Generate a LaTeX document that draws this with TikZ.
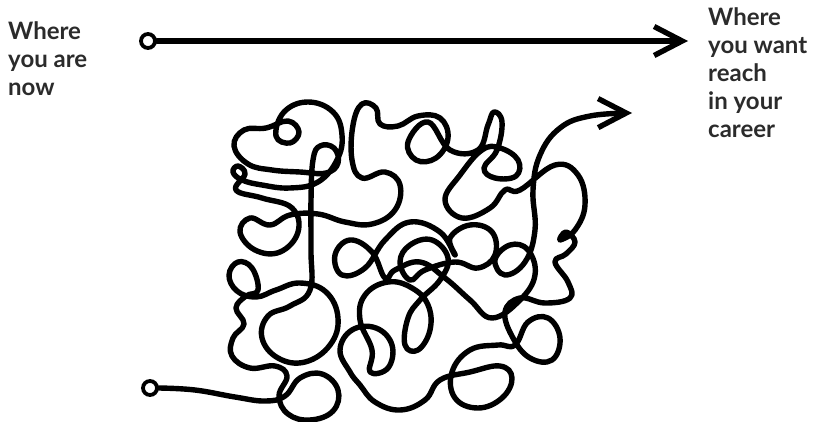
\documentclass[tikz,border=0pt]{standalone}
\usepackage{fontspec}
\setmainfont{Lato}
\usetikzlibrary{arrows.meta}

\definecolor{labelgray}{HTML}{2B2B2B}

\tikzset{
  scribble/.style={line width=5.4pt, line cap=round, line join=round},
  endpt/.style={circle, draw, line width=3.8pt, minimum size=14pt, inner sep=0pt},
  lbl/.style={font=\bfseries\fontsize{24}{28.2}\selectfont, text=labelgray,
    align=left, anchor=base west, inner sep=0pt},
  barb/.style={-{Straight Barb[length=28pt,width=29pt]}}
}

\begin{document}
\begin{tikzpicture}[x=1pt,y=-1pt]
  \useasboundingbox (0,0) rectangle (813,422);

  % labels (anchored on their last line)
  \node[lbl] (here) at (8,96) {Where\\you are\\now};
  \node[lbl] (there) at (708,138) {Where\\you want\\reach\\in your\\career};

  % straight way
  \node[endpt] (now) at (148,41) {};
  \coordinate (goal) at (688,41);
  \draw[scribble,barb] (now) -- (goal);

  % the tangled way
  \node[endpt] (start) at (150,388) {};
  \draw[scribble,barb] plot[smooth,tension=0.7] coordinates {
    (start.east) (195,390) (235,397) (265,401) (285,396) (300,378) (322,374)
    (338,390) (333,411) (310,420) (288,414) (279,396) (287,376) (275,366)
    (250,368) (232,356) (233,338) (244,324) (236,308) (246,296) (258,290)
    (252,268) (238,262) (229,275) (237,291) (256,297) (276,290) (300,283)
    (326,292) (338,318) (330,345) (305,362) (278,358) (262,338) (268,316)
    (290,306) (310,290)
    (311,250) (311,200) (313,160) (320,146) (334,148) (338,163) (326,173)
    (300,172) (272,170) (248,164) (234,146) (244,130) (266,128) (288,121)
    (299,132) (290,143) (276,136) (284,112) (308,102) (333,112) (342,135)
    (337,160) (318,182) (290,188) (262,185) (242,180) (233,172) (238,166)
    (245,174) (236,190)
    (262,198) (292,208) (298,232) (280,252) (255,250) (240,232) (250,218)
    (270,225) (290,215) (318,214) (345,222) (372,224)
    (395,210) (400,185) (385,172) (362,178) (352,160) (353,125) (362,104)
    (376,108) (380,124) (398,126) (418,116) (440,118) (448,138) (436,158)
    (416,160) (408,142) (428,122) (450,150) (478,150) (488,125) (494,112)
    (502,122) (497,150) (484,168) (495,178) (516,176) (518,160) (500,148)
    (482,150) (460,175) (445,200) (462,218) (490,208) (505,190) (520,190)
    (555,165) (578,175) (585,205) (575,230)
    (560,240) (566,232) (575,242) (566,254) (555,262) (568,282) (570,298)
    (545,303) (520,298) (505,312) (513,338) (530,358) (552,360) (560,338)
    (548,318) (528,322) (515,345) (498,345) (470,350) (452,372) (455,398)
    (478,408) (502,398) (512,378) (500,366) (470,372) (440,380) (425,400)
    (400,410) (375,402) (360,385) (350,372) (340,350) (352,330) (376,328)
    (392,345) (388,368) (370,372) (372,350) (360,320) (365,295) (388,282)
    (412,288) (428,305) (430,330) (418,350) (405,345) (408,318) (420,300)
    (440,280) (448,258) (432,240) (410,245) (400,262) (410,280) (425,270)
    (455,262) (478,268) (495,255) (492,232) (470,225) (450,238) (455,255)
    (440,232) (410,222) (385,240) (365,268) (342,275) (335,255) (350,240)
    (372,252) (385,278) (395,270) (420,262) (445,278) (470,300) (492,318)
    (520,300) (535,275) (528,250) (510,245) (495,260) (505,275) (525,262)
    (535,230) (533,190) (540,155) (560,128) (590,116) (632,113)};
\end{tikzpicture}
\end{document}
